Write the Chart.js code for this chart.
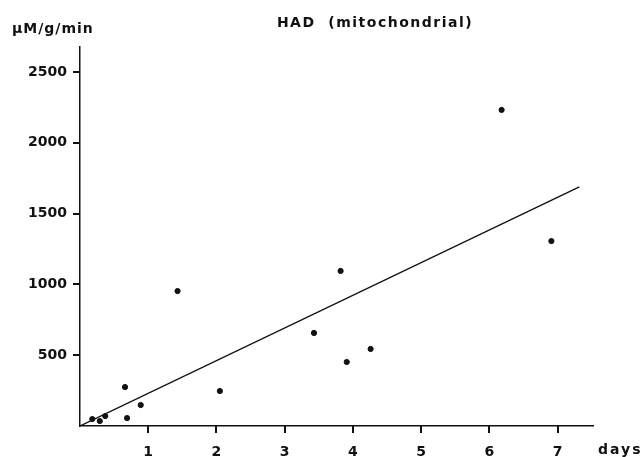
<!DOCTYPE html>
<html>
<head>
<meta charset="utf-8">
<script src="https://cdn.jsdelivr.net/npm/chart.js@4/dist/chart.umd.min.js"></script>
<style>
    html, body { margin: 0; padding: 0; background: #fff; }
    #wrap { width: 643px; height: 457px; }
</style>
</head>
<body>
<div id="wrap"><canvas id="chart" width="643" height="457"></canvas></div>
<script>
// measured points (days, µM/g/min)
const days = [0.18, 0.29, 0.37, 0.66, 0.69, 0.89, 1.43, 2.05, 3.43, 3.82, 3.91, 4.26, 6.18, 6.91];
const activity = [49, 35, 70, 275, 56, 148, 953, 247, 657, 1095, 452, 544, 2232, 1306];

// fitted line endpoints
const fitDays = [0, 7.32];
const fitActivity = [0, 1688];

const xTicks = [1, 2, 3, 4, 5, 6, 7];
const yTicks = [500, 1000, 1500, 2000, 2500];

const labelFont = { family: 'DejaVu Sans', size: 14, weight: 'bold' };

const textPlugin = {
    id: 'figureText',
    afterDraw: function (chart) {
        const ctx = chart.ctx;
        const area = chart.chartArea;
        const xs = chart.scales.x;
        const ys = chart.scales.y;
        ctx.save();
        // tick marks, outside the axes
        ctx.fillStyle = '#111';
        xTicks.forEach(v => {
            const px = Math.round(xs.getPixelForValue(v));
            ctx.fillRect(px - 1, area.bottom, 2, 7);
        });
        yTicks.forEach(v => {
            const py = Math.round(ys.getPixelForValue(v));
            ctx.fillRect(area.left - 7, py - 1, 7, 2);
        });

        ctx.textBaseline = 'middle';
        ctx.font = 'bold 14px "DejaVu Sans"';
        ctx.letterSpacing = '1px';
        ctx.textAlign = 'left';
        ctx.fillText('\u03bcM/g/min', 12, 29);
        ctx.letterSpacing = '1.5px';
        ctx.textAlign = 'center';
        ctx.fillText('HAD  (mitochondrial)', 375, 23);
        ctx.letterSpacing = '2px';
        ctx.textAlign = 'left';
        ctx.fillText('days', 598, 450);
        ctx.restore();
    }
};

new Chart(document.getElementById('chart'), {
    type: 'scatter',
    data: {
        datasets: [
            {
                data: days.map((d, i) => ({ x: d, y: activity[i] })),
                backgroundColor: '#111',
                borderColor: '#111',
                pointRadius: 2.6,
                pointHoverRadius: 2.6
            },
            {
                type: 'line',
                data: fitDays.map((d, i) => ({ x: d, y: fitActivity[i] })),
                borderColor: '#111',
                borderWidth: 1.3,
                pointRadius: 0,
                fill: false
            }
        ]
    },
    options: {
        responsive: false,
        animation: false,
        layout: { padding: { left: 0, top: 47, right: 50, bottom: 0 } },
        plugins: {
            legend: { display: false },
            tooltip: { enabled: false }
        },
        scales: {
            x: {
                type: 'linear',
                min: 0,
                max: 7.52,
                afterBuildTicks: function (scale) {
                    scale.ticks = xTicks.map(v => ({ value: v }));
                },
                afterFit: function (scale) { scale.height = 31; },
                border: { display: true, color: '#111', width: 1.5 },
                grid: { display: false },
                ticks: { color: '#111', font: labelFont, padding: 10, maxRotation: 0, autoSkip: false,
                    callback: v => String(v) }
            },
            y: {
                type: 'linear',
                min: 0,
                max: 2676,
                afterBuildTicks: function (scale) {
                    scale.ticks = yTicks.map(v => ({ value: v }));
                },
                afterFit: function (scale) { scale.width = 80; },
                border: { display: true, color: '#111', width: 1.5 },
                grid: { display: false },
                ticks: { color: '#111', font: labelFont, padding: 5, autoSkip: false,
                    callback: v => String(v) }
            }
        }
    },
    plugins: [textPlugin]
});
</script>
</body>
</html>
